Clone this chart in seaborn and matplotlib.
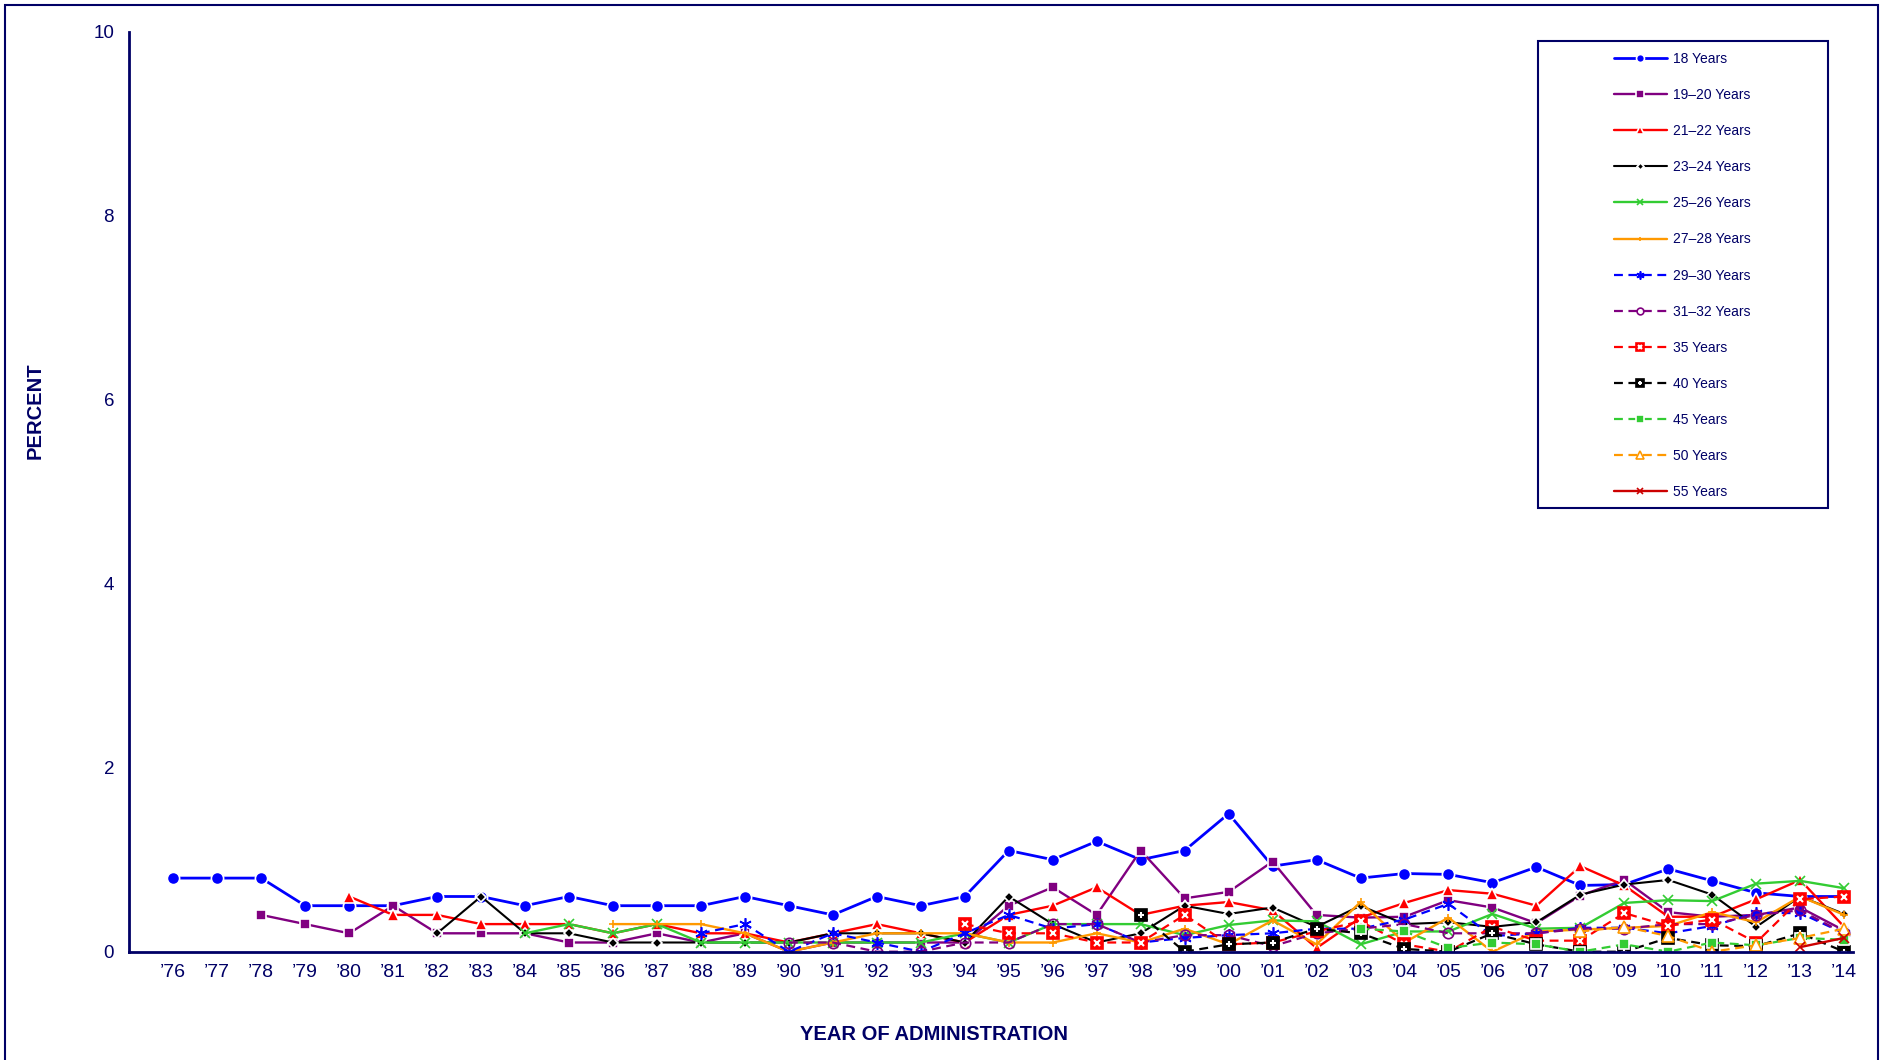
import matplotlib
matplotlib.use('Agg')
import matplotlib.pyplot as plt
from matplotlib.patches import Rectangle
import seaborn as sns

# Years of administration, 1976-2014
years = list(range(1976, 2015))
tick_labels = ['\u2019' + str(y)[2:] for y in years]

# Percent values per age group; each series starts at its first survey year
age_18 = [0.8, 0.8, 0.8, 0.5, 0.5, 0.5, 0.6, 0.6, 0.5, 0.6, 0.5, 0.5, 0.5, 0.6,
          0.5, 0.4, 0.6, 0.5, 0.6, 1.1, 1.0, 1.2, 1.0, 1.1, 1.5, 0.93, 1.0,
          0.8, 0.85, 0.84, 0.75, 0.92, 0.72, 0.73, 0.9, 0.77, 0.64, 0.6, 0.6]
age_19_20 = [0.4, 0.3, 0.2, 0.5, 0.2, 0.2, 0.2, 0.1, 0.1, 0.2, 0.1, 0.2, 0.0,
             0.1, 0.1, 0.1, 0.1, 0.5, 0.7, 0.4, 1.1, 0.58, 0.65, 0.98, 0.4,
             0.37, 0.38, 0.56, 0.48, 0.31, 0.61, 0.78, 0.43, 0.38, 0.4, 0.48, 0.23]
age_21_22 = [0.6, 0.4, 0.4, 0.3, 0.3, 0.3, 0.2, 0.3, 0.2, 0.2, 0.1, 0.2, 0.3,
             0.2, 0.1, 0.4, 0.5, 0.7, 0.4, 0.5, 0.54, 0.45, 0.04, 0.37, 0.53,
             0.67, 0.63, 0.5, 0.93, 0.72, 0.38, 0.38, 0.57, 0.78, 0.27]
age_23_24 = [0.2, 0.6, 0.2, 0.2, 0.1, 0.1, 0.1, 0.1, 0.1, 0.2, 0.2, 0.2, 0.1,
             0.6, 0.3, 0.1, 0.2, 0.5, 0.41, 0.48, 0.27, 0.5, 0.3, 0.32, 0.27,
             0.32, 0.62, 0.73, 0.78, 0.62, 0.27, 0.6, 0.41]
age_25_26 = [0.2, 0.3, 0.2, 0.3, 0.1, 0.1, 0.1, 0.1, 0.1, 0.1, 0.2, 0.1, 0.3,
             0.3, 0.3, 0.18, 0.29, 0.34, 0.33, 0.08, 0.22, 0.22, 0.41, 0.25,
             0.26, 0.53, 0.56, 0.55, 0.74, 0.77, 0.69]
age_27_28 = [0.3, 0.3, 0.3, 0.2, 0.0, 0.1, 0.2, 0.2, 0.2, 0.1, 0.1, 0.2, 0.1,
             0.25, 0.08, 0.34, 0.08, 0.54, 0.1, 0.37, 0.0, 0.22, 0.24, 0.26,
             0.28, 0.43, 0.32, 0.6, 0.4]
age_29_30 = [0.2, 0.3, 0.0, 0.2, 0.1, 0.0, 0.2, 0.4, 0.25, 0.3, 0.1, 0.15,
             0.18, 0.2, 0.25, 0.25, 0.35, 0.52, 0.17, 0.2, 0.26, 0.26, 0.2,
             0.28, 0.42, 0.42, 0.2]
age_31_32 = [0.1, 0.1, 0.0, 0.0, 0.1, 0.1, 0.3, 0.3, 0.1, 0.18, 0.18, 0.06,
             0.2, 0.25, 0.3, 0.2, 0.2, 0.2, 0.25, 0.25, 0.3, 0.3, 0.4, 0.45, 0.2]
age_35 = [0.3, 0.2, 0.2, 0.1, 0.1, 0.4, 0.08, 0.1, 0.22, 0.33, 0.08, 0.0,
          0.27, 0.12, 0.12, 0.42, 0.28, 0.35, 0.1, 0.57, 0.6]
age_40 = [0.4, 0.0, 0.08, 0.1, 0.25, 0.2, 0.03, 0.0, 0.2, 0.08, 0.0, 0.0,
          0.15, 0.07, 0.06, 0.2, 0.0]
age_45 = [0.25, 0.22, 0.04, 0.1, 0.08, 0.0, 0.08, 0.0, 0.1, 0.07, 0.15, 0.13]
age_50 = [0.22, 0.27, 0.17, 0.0, 0.07, 0.15, 0.25]
age_55 = [0.05, 0.15]

NAVY = '#000066'
SOLID = '-'
DASHED = (0, (4, 2.5))

# label, values, color, marker, size, linestyle, linewidth, face, edge, overlay marker
series = [
    ('18 Years', age_18, '#0000FF', 'o', 8.8, SOLID, 2.0, None, 'w', None),
    ('19\u201320 Years', age_19_20, '#800080', 's', 7.8, SOLID, 1.7, None, 'w', None),
    ('21\u201322 Years', age_21_22, '#FF0000', '^', 8.2, SOLID, 1.7, None, 'w', None),
    ('23\u201324 Years', age_23_24, '#000000', 'D', 5.4, SOLID, 1.5, None, 'w', None),
    ('25\u201326 Years', age_25_26, '#33CC33', 'x', 7.4, SOLID, 1.7, None, '#33CC33', None),
    ('27\u201328 Years', age_27_28, '#FF9900', '+', 5.5, SOLID, 1.7, None, '#FF9900', None),
    ('29\u201330 Years', age_29_30, '#0000FF', (6, 2, 0), 9.0, DASHED, 1.6, None, '#0000FF', None),
    ('31\u201332 Years', age_31_32, '#800080', 'o', 7.5, DASHED, 1.6, 'none', '#800080', None),
    ('35 Years', age_35, '#FF0000', 's', 8.2, DASHED, 1.6, None, '#FF0000', 'x'),
    ('40 Years', age_40, '#000000', 's', 8.2, DASHED, 1.6, None, '#000000', '+'),
    ('45 Years', age_45, '#33CC33', 's', 7.8, DASHED, 1.6, None, 'w', None),
    ('50 Years', age_50, '#FF9900', '^', 8.2, DASHED, 1.6, 'w', '#FF9900', None),
    ('55 Years', age_55, '#CC0000', 'x', 7.4, SOLID, 1.7, None, '#CC0000', None),
]

sns.set_theme(style='white')
plt.rcParams['font.family'] = ['Liberation Sans', 'DejaVu Sans']

fig = plt.figure(figsize=(18.85, 10.6), dpi=100)
ax = fig.add_axes([129.3 / 1885, 108.3 / 1060, (1853 - 129.3) / 1885, 920 / 1060])

handles, labels = [], []
for label, vals, color, marker, ms, ls, lw, mfc, mec, overlay in series:
    x = years[-len(vals):]
    kws = dict(color=color, marker=marker, markersize=ms, linestyle=ls,
               linewidth=lw, markeredgecolor=mec, markeredgewidth=1.2)
    if mfc is not None:
        kws['markerfacecolor'] = mfc
    sns.lineplot(x=x, y=vals, ax=ax, errorbar=None, label=label, **kws)
    line = ax.get_lines()[-1]
    if overlay is not None:
        over, = ax.plot(x, vals, linestyle='none', marker=overlay, color='white',
                        markersize=ms * 0.6, markeredgewidth=1.5)
        handles.append((line, over))
    else:
        handles.append(line)
    labels.append(label)

ax.set_xlim(1975, 2014.2)
ax.set_ylim(0, 10)
ax.set_xticks(years)
ax.set_xticklabels(tick_labels)
ax.set_yticks([0, 2, 4, 6, 8, 10])
ax.set_yticklabels(['0', '2', '4', '6', '8', '10'])

for side in ['top', 'right']:
    ax.spines[side].set_visible(False)
for side in ['left', 'bottom']:
    ax.spines[side].set_color(NAVY)
    ax.spines[side].set_linewidth(2)

ax.tick_params(axis='both', direction='in', length=5, width=1.5, colors=NAVY)
ax.tick_params(axis='x', labelsize=14, pad=9)
ax.tick_params(axis='y', labelsize=13.5, pad=11)

ax.set_xlabel('YEAR OF ADMINISTRATION', fontsize=14.5, fontweight='bold', color=NAVY)
ax.set_ylabel('PERCENT', fontsize=14.5, fontweight='bold', color=NAVY)
ax.xaxis.set_label_coords(0.467, -0.0797)
ax.yaxis.set_label_coords(-0.0489, 0.588)

ax.legend(handles, labels, loc='upper left',
          bbox_to_anchor=(1614 / 1885, 1 - 52 / 1060),
          bbox_transform=fig.transFigure, frameon=False, fontsize=10,
          labelcolor=NAVY, handlelength=3.8, handletextpad=0.45,
          labelspacing=1.59, markerscale=0.65, borderpad=0, borderaxespad=0)

# legend box and outer frame
fig.add_artist(Rectangle((1538 / 1885, 1 - 508 / 1060), (1828 - 1538) / 1885,
                         (508 - 41) / 1060, transform=fig.transFigure,
                         fill=False, edgecolor=NAVY, linewidth=1.5))
fig.add_artist(Rectangle((5 / 1885, -0.02), 1873 / 1885, 1 - 5 / 1060 + 0.02,
                         transform=fig.transFigure, fill=False,
                         edgecolor=NAVY, linewidth=1.5))

fig.savefig('out.png', dpi=100)
